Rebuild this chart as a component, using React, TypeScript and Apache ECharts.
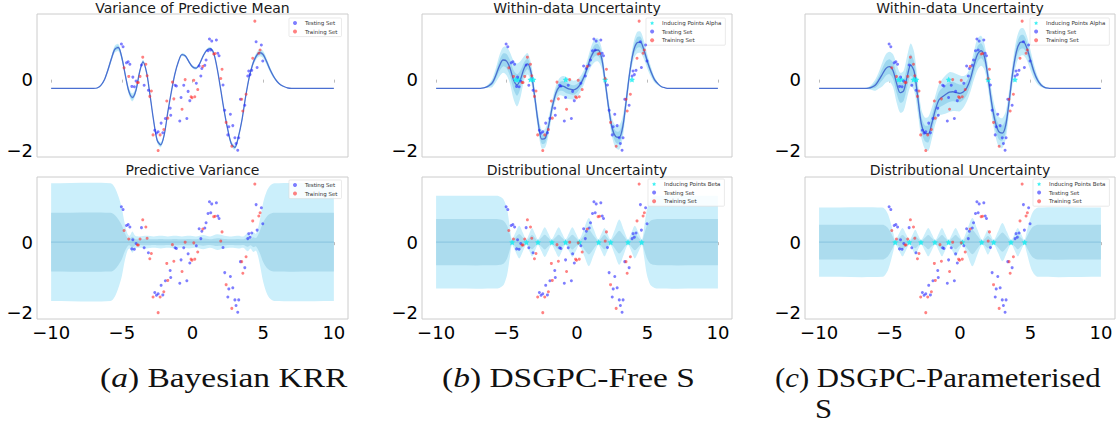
import React, { useEffect, useRef } from "react";
import * as echarts from "echarts";

// ---------- text ----------
const TOP_TITLES = ["Variance of Predictive Mean", "Within-data Uncertainty", "Within-data Uncertainty"];
const BOTTOM_TITLES = ["Predictive Variance", "Distributional Uncertainty", "Distributional Uncertainty"];
const X_TICKS = [-10, -5, 0, 5, 10];
const Y_TICKS = [-2, 0];

// ---------- top row: [x, mean, sd] ----------
const CURVE_A = [
  [-10, -0.245, 0], [-8, -0.245, 0], [-7, -0.245, 0], [-6.75, -0.235, 0.005], [-6.5, -0.17, 0.01],
  [-6.25, -0.02, 0.02], [-6, 0.25, 0.03], [-5.75, 0.57, 0.04], [-5.5, 0.85, 0.05], [-5.25, 0.9, 0.05],
  [-5, 0.62, 0.045], [-4.75, 0.12, 0.04], [-4.5, -0.33, 0.05], [-4.25, -0.5, 0.055], [-4, -0.3, 0.045],
  [-3.75, 0.2, 0.035], [-3.5, 0.5, 0.03], [-3.25, 0.2, 0.025], [-3, -0.45, 0.025], [-2.75, -1.15, 0.03],
  [-2.5, -1.7, 0.035], [-2.25, -1.83, 0.035], [-2, -1.55, 0.03], [-1.75, -0.92, 0.025], [-1.5, -0.35, 0.02],
  [-1.25, 0.15, 0.02], [-1, 0.5, 0.02], [-0.75, 0.7, 0.02], [-0.5, 0.66, 0.02], [-0.25, 0.5, 0.02],
  [0, 0.36, 0.02], [0.25, 0.32, 0.02], [0.5, 0.44, 0.02], [0.75, 0.66, 0.02], [1, 0.82, 0.02],
  [1.25, 0.87, 0.025], [1.5, 0.74, 0.025], [1.75, 0.3, 0.025], [2, -0.29, 0.025], [2.25, -0.9, 0.025],
  [2.5, -1.41, 0.03], [2.75, -1.8, 0.035], [3, -1.9, 0.035], [3.25, -1.6, 0.03], [3.5, -1.13, 0.03],
  [3.75, -0.5, 0.03], [4, 0.04, 0.035], [4.25, 0.42, 0.04], [4.5, 0.65, 0.045], [4.75, 0.755, 0.05],
  [5, 0.7, 0.05], [5.25, 0.5, 0.045], [5.5, 0.27, 0.035], [5.75, 0.08, 0.025], [6, -0.06, 0.015],
  [6.25, -0.15, 0.01], [6.5, -0.2, 0.005], [6.75, -0.235, 0], [7, -0.245, 0], [8, -0.245, 0], [10, -0.245, 0],
];

const CURVE_B = [
  [-10, -0.245, 0], [-8, -0.245, 0], [-7, -0.245, 0], [-6.75, -0.24, 0.005], [-6.5, -0.217, 0.01],
  [-6.25, -0.17, 0.03], [-6, -0.086, 0.06], [-5.75, 0.13, 0.1], [-5.5, 0.39, 0.15], [-5.25, 0.55, 0.18],
  [-5, 0.52, 0.2], [-4.75, 0.32, 0.22], [-4.5, -0.01, 0.27], [-4.25, -0.15, 0.3], [-4, 0.02, 0.25],
  [-3.75, 0.32, 0.17], [-3.5, 0.44, 0.15], [-3.25, 0.18, 0.13], [-3, -0.48, 0.12], [-2.75, -1.22, 0.12],
  [-2.5, -1.67, 0.13], [-2.25, -1.64, 0.13], [-2, -1.27, 0.12], [-1.75, -0.76, 0.1], [-1.5, -0.38, 0.1],
  [-1.25, -0.2, 0.12], [-1, -0.18, 0.14], [-0.75, -0.23, 0.15], [-0.5, -0.27, 0.14], [-0.25, -0.29, 0.13],
  [0, -0.245, 0.12], [0.25, -0.12, 0.11], [0.5, 0.08, 0.1], [0.75, 0.36, 0.11], [1, 0.64, 0.14],
  [1.25, 0.81, 0.16], [1.5, 0.83, 0.16], [1.75, 0.6, 0.14], [2, -0.06, 0.11], [2.25, -0.8, 0.11],
  [2.5, -1.37, 0.13], [2.75, -1.6, 0.16], [3, -1.62, 0.17], [3.25, -1.32, 0.15], [3.5, -0.57, 0.12],
  [3.75, 0.22, 0.1], [4, 0.78, 0.12], [4.25, 1.03, 0.15], [4.5, 1.05, 0.15], [4.75, 0.83, 0.13],
  [5, 0.5, 0.1], [5.25, 0.22, 0.07], [5.5, 0, 0.04], [5.75, -0.12, 0.02], [6, -0.2, 0.01],
  [6.25, -0.23, 0], [6.5, -0.245, 0], [6.75, -0.245, 0], [7, -0.245, 0], [8, -0.245, 0], [10, -0.245, 0],
];

const CURVE_C = [
  [-10, -0.245, 0], [-8, -0.245, 0], [-7, -0.245, 0], [-6.75, -0.245, 0.005], [-6.5, -0.24, 0.015],
  [-6.25, -0.21, 0.04], [-6, -0.15, 0.08], [-5.75, -0.01, 0.12], [-5.5, 0.157, 0.17], [-5.25, 0.316, 0.2],
  [-5, 0.363, 0.21], [-4.75, 0.25, 0.23], [-4.5, -0.105, 0.27], [-4.25, -0.366, 0.28], [-4, -0.31, 0.28],
  [-3.75, 0.082, 0.29], [-3.5, 0.41, 0.3], [-3.25, 0.222, 0.27], [-3, -0.48, 0.22], [-2.75, -1.225, 0.2],
  [-2.5, -1.5, 0.22], [-2.25, -1.52, 0.24], [-2, -1.225, 0.22], [-1.75, -0.85, 0.2], [-1.5, -0.57, 0.22],
  [-1.25, -0.48, 0.25], [-1, -0.41, 0.27], [-0.75, -0.35, 0.28], [-0.5, -0.34, 0.27], [-0.25, -0.366, 0.26],
  [0, -0.385, 0.25], [0.25, -0.34, 0.22], [0.5, -0.217, 0.19], [0.75, 0.036, 0.18], [1, 0.41, 0.2],
  [1.25, 0.72, 0.22], [1.5, 0.81, 0.21], [1.75, 0.62, 0.18], [2, 0.036, 0.16], [2.25, -0.665, 0.17],
  [2.5, -1.18, 0.19], [2.75, -1.46, 0.21], [3, -1.5, 0.21], [3.25, -1.27, 0.19], [3.5, -0.57, 0.16],
  [3.75, 0.222, 0.15], [4, 0.78, 0.17], [4.25, 1.035, 0.19], [4.5, 1.06, 0.19], [4.75, 0.877, 0.17],
  [5, 0.55, 0.14], [5.25, 0.222, 0.1], [5.5, -0.01, 0.06], [5.75, -0.15, 0.03], [6, -0.217, 0.015],
  [6.25, -0.24, 0.005], [6.5, -0.245, 0], [6.75, -0.245, 0], [7, -0.245, 0], [8, -0.245, 0], [10, -0.245, 0],
];

// ---------- bottom row: [x, sd] (mean 0) ----------
const BOT_A = [
  [-10, 0.83], [-5.8, 0.83], [-5.5, 0.77], [-5.25, 0.65], [-5, 0.48], [-4.8, 0.27], [-4.6, 0.12],
  [-4.45, 0.09], [-4.25, 0.15], [-4.05, 0.09], [-3.75, 0.08], [-3.25, 0.09], [-2.75, 0.08], [-2.25, 0.09],
  [-1.75, 0.08], [-1.25, 0.09], [-0.75, 0.08], [-0.25, 0.09], [0.25, 0.08], [0.75, 0.1], [1.25, 0.08],
  [1.75, 0.11], [2.25, 0.09], [2.75, 0.08], [3.25, 0.09], [3.6, 0.08], [3.9, 0.13], [4.1, 0.09],
  [4.3, 0.14], [4.5, 0.12], [4.75, 0.3], [5, 0.56], [5.25, 0.72], [5.5, 0.8], [5.8, 0.83], [10, 0.83],
];

const BOT_B = [
  [-10, 0.655], [-5.7, 0.655], [-5.45, 0.64], [-5.2, 0.6], [-4.96, 0.46], [-4.77, 0.22], [-4.61, 0.04],
  [-4.36, 0.135], [-4.1, 0.23], [-3.85, 0.135], [-3.6, 0.04],
  [-3.39, 0.12], [-3.19, 0.2], [-2.98, 0.12], [-2.77, 0.04],
  [-2.53, 0.125], [-2.29, 0.21], [-2.04, 0.125], [-1.8, 0.04],
  [-1.55, 0.125], [-1.3, 0.21], [-1.06, 0.125], [-0.81, 0.04],
  [-0.57, 0.125], [-0.33, 0.21], [-0.08, 0.125], [0.16, 0.04],
  [0.5, 0.19], [0.84, 0.34], [1.17, 0.19], [1.51, 0.04],
  [1.73, 0.12], [1.95, 0.2], [2.16, 0.12], [2.38, 0.04],
  [2.69, 0.18], [3, 0.32], [3.31, 0.18], [3.62, 0.04],
  [3.87, 0.135], [4.1, 0.23], [4.36, 0.135], [4.61, 0.04],
  [4.77, 0.22], [4.96, 0.46], [5.2, 0.6], [5.45, 0.64], [5.7, 0.655], [10, 0.655],
];

const BOT_C = [
  [-10, 0.49], [-5.5, 0.49], [-5.3, 0.46], [-5.1, 0.39], [-4.88, 0.245], [-4.72, 0.12], [-4.59, 0.03],
  [-4.34, 0.115], [-4.08, 0.2], [-3.83, 0.115], [-3.58, 0.03],
  [-3.38, 0.1], [-3.17, 0.175], [-2.97, 0.1], [-2.76, 0.03],
  [-2.51, 0.115], [-2.25, 0.2], [-2, 0.115], [-1.75, 0.03],
  [-1.52, 0.115], [-1.28, 0.2], [-1.05, 0.115], [-0.81, 0.03],
  [-0.56, 0.115], [-0.31, 0.2], [-0.07, 0.115], [0.18, 0.03],
  [0.53, 0.185], [0.88, 0.34], [1.22, 0.185], [1.57, 0.03],
  [1.78, 0.1], [1.98, 0.175], [2.19, 0.1], [2.39, 0.03],
  [2.7, 0.15], [3.01, 0.27], [3.32, 0.15], [3.63, 0.03],
  [3.87, 0.115], [4.1, 0.2], [4.34, 0.115], [4.57, 0.03],
  [4.7, 0.12], [4.86, 0.245], [5.08, 0.39], [5.3, 0.46], [5.55, 0.49], [10, 0.49],
];

// ---------- observations ----------
const TESTING_SET = [
  [-5.03, 1.0], [-4.91, 0.92], [-4.67, 0.47], [-4.55, 0.5], [-4.43, 0.43], [-4.22, 0.07], [-3.99, -0.04],
  [-4.29, -0.19], [-4.11, -0.2], [-3.61, 0.41], [-3.42, -0.16], [-3.12, -0.3], [-2.67, -1.42], [-2.55, -1.5],
  [-2.43, -1.46], [-2.1, -1.49], [-2.22, -1.22], [-1.92, -1.09], [-1.54, -1.0], [-1.58, -0.8], [-0.9, -1.16],
  [-0.4, -1.09], [-0.81, -0.5], [-0.62, -0.16], [-0.19, -0.59], [-0.31, -0.33], [0.27, -0.1], [-1.23, -0.16],
  [-1.14, -0.18], [1.2, 1.14], [1.36, 1.08], [1.69, 1.11], [1.29, 0.83], [1.1, 0.81], [1.79, 0.74],
  [1.88, 0.67], [0.96, 0.55], [0.47, 0.38], [0.87, 0.4], [0.66, 0.31], [0.59, 0.1], [2.16, -0.15],
  [4.5, 1.06], [4.87, 0.97], [4.97, 0.52], [4.57, 0.34], [4.19, 0.26], [3.98, 0.24], [4.07, 0.14],
  [3.91, 0.1], [3.39, -0.55], [3.7, -0.72], [2.28, -0.86], [2.68, -0.97], [2.85, -1.29], [2.57, -1.32],
  [2.5, -1.55], [3.0, -1.63], [3.27, -1.63], [3.08, -1.79], [3.2, -1.98],
];

const TRAINING_SET = [
  [-4.84, 0.33], [-4.51, 0.09], [-3.9, -0.08], [-3.83, -0.08], [-3.52, 0.63], [-3.3, 0.43], [-3.21, 0.11],
  [-3.71, 0.09], [-2.91, -0.32], [-3.02, -0.47], [-2.79, -1.55], [-2.29, -1.55], [-2.03, -1.4], [-2.43, -1.99],
  [-1.75, -1.08], [-1.82, -0.6], [-1.32, -0.54], [-0.74, -0.83], [-0.1, -0.48], [-0.03, -0.51], [0.16, -0.48],
  [-0.52, 0.0], [0.09, -0.02], [0.37, -0.28], [-1.42, -0.07], [4.41, 1.64], [1.5, 0.72], [1.6, 0.73],
  [0.73, 0.37], [2.09, 0.29], [2.0, 0.03], [4.78, 0.83], [4.69, 0.74], [4.26, 0.6], [3.79, -0.41],
  [3.48, -0.55], [3.56, -0.88], [2.38, -1.2], [2.78, -1.87],
];

const ALPHA_X = [-4.35, -4.15, -3.3, -3.1, -0.8, 2.0, 3.9];
const BETA_X = [-4.6, -3.59, -2.77, -1.78, -0.81, 0.17, 1.54, 2.39, 3.62, 4.59];

// ---------- style ----------
const MEAN_COLOR = "#4a6fd1";
const TOP_OUTER = "#c5ecf9";
const TOP_INNER = "#9dd7ef";
const BOT_OUTER = "#cbeffb";
const BOT_INNER = "#acdcee";
const BOT_LINE = "#8ec7e2";
const BLUE = "rgba(40,40,255,0.75)";
const RED = "rgba(255,45,45,0.75)";
const CYAN = "#10eef0";
const STAR = "path://M0,-10L2.9,-4L9.5,-3.1L4.7,1.5L5.9,8.1L0,5L-5.9,8.1L-4.7,1.5L-9.5,-3.1L-2.9,-4Z";

const GRID_LEFT = [37, 422, 805];
const GRID_WIDTH = [311, 310, 310];
const ROW_TOP = [14, 177];
const ROW_HEIGHT = [143, 142];

const fmt = (v: number) => (v < 0 ? "\u2212" + Math.abs(v) : String(v));

function buildOption() {
  const grids: any[] = [];
  const xAxes: any[] = [];
  const yAxes: any[] = [];
  for (let row = 0; row < 2; row++) {
    for (let col = 0; col < 3; col++) {
      const gi = row * 3 + col;
      grids.push({
        left: GRID_LEFT[col], top: ROW_TOP[row], width: GRID_WIDTH[col], height: ROW_HEIGHT[row],
        show: true, borderColor: "#cccccc", borderWidth: 1, backgroundColor: "transparent",
      });
      xAxes.push({
        gridIndex: gi, type: "value", min: -11, max: 11,
        splitLine: { show: false }, axisLine: { show: false },
        axisTick: { show: true, customValues: X_TICKS, length: 3, lineStyle: { color: "#bbbbbb" } },
        axisLabel: {
          show: row === 1, customValues: X_TICKS, formatter: fmt, fontSize: 18, margin: 4,
          color: "#000", fontFamily: "DejaVu Sans",
        },
      });
      yAxes.push({
        gridIndex: gi, type: "value", min: -2.17, max: 1.84,
        splitLine: { show: false }, axisLine: { show: false }, axisTick: { show: false },
        axisLabel: {
          show: true, customValues: Y_TICKS, formatter: fmt, fontSize: 18, margin: 4,
          color: "#000", fontFamily: "DejaVu Sans",
        },
      });
    }
  }

  const series: any[] = [];
  // band between lower and upper edges, drawn as a smoothed polygon through the axis scales
  const addBand = (gi: number, rows: number[][], color: string) => {
    const upper = rows.map((r) => [r[0], r[2]]);
    const lower = rows.map((r) => [r[0], r[1]]).reverse();
    series.push({
      type: "custom", coordinateSystem: "cartesian2d", xAxisIndex: gi, yAxisIndex: gi,
      silent: true, z: 1, data: [[rows[0][0], rows[0][1]]],
      renderItem: (_params: any, api: any) => {
        const up = upper.map((p) => api.coord(p));
        const dn = lower.map((p) => api.coord(p));
        const pts = [up[0], ...up, up[up.length - 1], dn[0], ...dn, dn[dn.length - 1]];
        return { type: "polygon", shape: { points: pts, smooth: 0.3 }, style: { fill: color } };
      },
    });
  };
  const addPoints = (gi: number) => {
    series.push({
      type: "scatter", name: "Testing Set", xAxisIndex: gi, yAxisIndex: gi, data: TESTING_SET, z: 4,
      symbolSize: 3, itemStyle: { color: BLUE }, silent: true,
    });
    series.push({
      type: "scatter", name: "Training Set", xAxisIndex: gi, yAxisIndex: gi, data: TRAINING_SET, z: 4,
      symbolSize: 3, itemStyle: { color: RED }, silent: true,
    });
  };

  [CURVE_A, CURVE_B, CURVE_C].forEach((curve, col) => {
    addBand(col, curve.map((r) => [r[0], r[1] - 2 * r[2], r[1] + 2 * r[2]]), TOP_OUTER);
    addBand(col, curve.map((r) => [r[0], r[1] - r[2], r[1] + r[2]]), TOP_INNER);
    series.push({
      type: "line", xAxisIndex: col, yAxisIndex: col, data: curve.map((r) => [r[0], r[1]]), z: 2,
      symbol: "none", smooth: 0.3, silent: true, lineStyle: { color: MEAN_COLOR, width: 1.3 },
    });
    if (col > 0) {
      series.push({
        type: "scatter", name: "Inducing Points Alpha", xAxisIndex: col, yAxisIndex: col, z: 3,
        data: ALPHA_X.map((x) => [x, 0]), symbol: STAR, symbolSize: 6, itemStyle: { color: CYAN }, silent: true,
      });
    }
    addPoints(col);
  });

  [BOT_A, BOT_B, BOT_C].forEach((sd, col) => {
    const gi = 3 + col;
    addBand(gi, sd.map((r) => [r[0], -2 * r[1], 2 * r[1]]), BOT_OUTER);
    addBand(gi, sd.map((r) => [r[0], -r[1], r[1]]), BOT_INNER);
    series.push({
      type: "line", xAxisIndex: gi, yAxisIndex: gi, data: sd.map((r) => [r[0], 0]), z: 2,
      symbol: "none", silent: true, lineStyle: { color: BOT_LINE, width: 1.2 },
    });
    if (col > 0) {
      series.push({
        type: "scatter", name: "Inducing Points Beta", xAxisIndex: gi, yAxisIndex: gi, z: 3,
        data: BETA_X.map((x) => [x, 0]), symbol: STAR, symbolSize: 6, itemStyle: { color: CYAN }, silent: true,
      });
    }
    addPoints(gi);
  });

  const legendBase = {
    orient: "vertical", itemWidth: 10, itemHeight: 4, itemGap: 2.6, padding: [2, 4, 2, 4],
    borderColor: "#dcdcdc", borderWidth: 0.6, borderRadius: 1, backgroundColor: "rgba(255,255,255,0.85)",
    selectedMode: false,
    textStyle: { fontSize: 5.5, lineHeight: 6, color: "#333", fontFamily: "DejaVu Sans" },
  };
  const legends = [
    { ...legendBase, left: 289, top: 18, data: ["Testing Set", "Training Set"] },
    { ...legendBase, left: 646, top: 18, data: ["Inducing Points Alpha", "Testing Set", "Training Set"] },
    { ...legendBase, left: 1030, top: 18, data: ["Inducing Points Alpha", "Testing Set", "Training Set"] },
    { ...legendBase, left: 289, top: 180, data: ["Testing Set", "Training Set"] },
    { ...legendBase, left: 648, top: 179, data: ["Inducing Points Beta", "Testing Set", "Training Set"] },
    { ...legendBase, left: 1033, top: 179, data: ["Inducing Points Beta", "Testing Set", "Training Set"] },
  ];

  const centers = GRID_LEFT.map((l, i) => l + GRID_WIDTH[i] / 2);
  const titleStyle = (text: string) => ({
    text, fontSize: 14, fontFamily: "DejaVu Sans", fill: "#1a1a1a",
    align: "center", verticalAlign: "middle", textAlign: "center", textVerticalAlign: "middle",
  });
  const capStyle = (text: string) => ({
    text, fontSize: 27, fontFamily: "Liberation Serif", fill: "#111",
    align: "left", verticalAlign: "middle", textAlign: "left", textVerticalAlign: "middle",
    rich: { i: { fontStyle: "italic", fontSize: 27, fontFamily: "Liberation Serif", fill: "#111" } },
  });
  const graphic: any[] = [];
  TOP_TITLES.forEach((t, i) => graphic.push({ type: "text", x: centers[i], y: 8, style: titleStyle(t), silent: true }));
  BOTTOM_TITLES.forEach((t, i) => graphic.push({ type: "text", x: centers[i], y: 170, style: titleStyle(t), silent: true }));
  const cap = (x: number, y: number, t: string, sx: number) =>
    graphic.push({ type: "text", x, y, scaleX: sx, style: capStyle(t), silent: true });
  cap(100, 378, "({i|a}) Bayesian KRR", 1.24);
  cap(442, 378, "({i|b}) DSGPC-Free S", 1.24);
  cap(775, 378, "({i|c}) DSGPC-Parameterised", 1.14);
  cap(815, 409, "S", 1.14);

  return {
    animation: false,
    backgroundColor: "#ffffff",
    textStyle: { fontFamily: "DejaVu Sans" },
    grid: grids,
    xAxis: xAxes,
    yAxis: yAxes,
    legend: legends,
    series,
    graphic,
  };
}

export default function App() {
  const ref = useRef<HTMLDivElement>(null);
  useEffect(() => {
    const chart = echarts.init(ref.current as HTMLDivElement, null, { renderer: "svg" });
    chart.setOption(buildOption() as any);
    return () => chart.dispose();
  }, []);
  return (
    <div
      ref={ref}
      style={{ position: "fixed", left: 0, top: 0, width: 1120, height: 425, background: "#fff" }}
    />
  );
}
